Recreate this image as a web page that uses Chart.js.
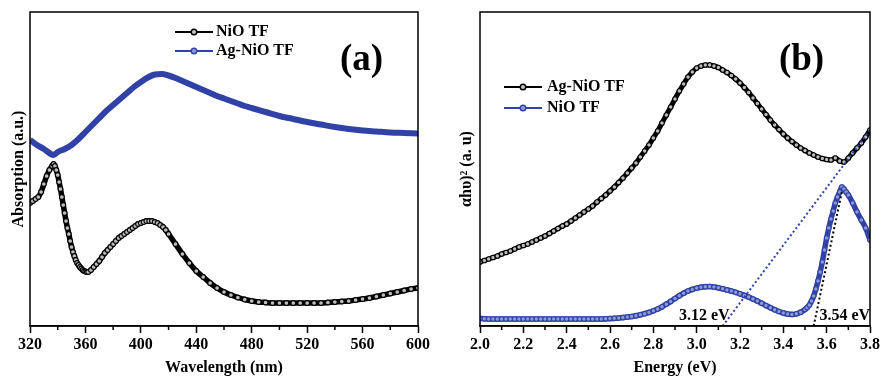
<!DOCTYPE html>
<html><head><meta charset="utf-8">
<script src="https://cdn.jsdelivr.net/npm/chart.js@4.4.1/dist/chart.umd.min.js"></script>
<style>
html,body{margin:0;padding:0;background:#fff;overflow:hidden}
#wrap{position:relative;width:882px;height:377px;background:#fff}
canvas{position:absolute;top:0}
#c1{left:0}#c2{left:441px}
</style></head><body>
<div id="wrap"><canvas id="c1" width="441" height="377"></canvas><canvas id="c2" width="441" height="377"></canvas></div>
<script>
// ---------- Panel (a): absorption vs wavelength (arbitrary units) ----------
const wlNiO = [320,322,324,326,328,330,332,334,336,337,338,339,340,341,342,343,344,345,346,347,348,349,350,351,352,353,354,355,356,357,358,359,360,361,362,364,366,368,370,372,374,376,378,380,382,384,386,388,390,392,394,396,398,400,402,404,406,408,410,412,414,416,418,420,425,430,435,440,445,450,455,460,465,470,475,480,485,490,495,500,505,510,515,520,525,530,535,540,545,550,555,560,565,570,575,580,585,590,595,600];
const absNiO = [123,125,127,129,134,142,150,156,160,162,160,156,151,144,137,129,121,113,105,98,92,85,79,74,70,66,63,61,59,57.5,56,55,54.5,54,54,56,59,62,65,69,73,76,79,82,85,88,90,92,94,96,98,100,102,103,104,105,105,105,104,103,101,99,96,92,82,72,63,55,49,43,38,34,31,28.5,26.5,25,24,23.5,23,23,23,23,23,23,23,23,23.5,24,24.5,25,26,27,28,29.5,31,32.5,34,35.5,37,38];
const wlAgNiO = [320,325,330,335,337,340,345,350,355,360,365,370,375,380,385,390,395,400,405,410,415,420,425,430,435,440,445,450,455,460,465,470,475,480,490,500,510,520,530,540,550,560,570,580,590,600];
const absAgNiO = [186,181,177,172,171,174,177,181,187,194,201,208,215,221,227,233,239,244,248.5,251.5,252,250.5,248,245,242,239,236,233,230,227.5,225,222.5,220,218,214,210,207,204,201.5,199,197,195.5,194.5,193.5,193,192.5];
const xTicksA = [320,360,400,440,480,520,560,600];
const xMinorA = [340,380,420,460,500,540,580];

// ---------- Panel (b): (alpha h nu)^2 vs energy (arbitrary units) ----------
const eAgNiO = [2.00,2.02,2.04,2.06,2.08,2.10,2.12,2.14,2.16,2.18,2.20,2.22,2.24,2.26,2.28,2.30,2.32,2.34,2.36,2.38,2.40,2.42,2.44,2.46,2.48,2.50,2.52,2.54,2.56,2.58,2.60,2.62,2.64,2.66,2.68,2.70,2.72,2.74,2.76,2.78,2.80,2.82,2.84,2.86,2.88,2.90,2.92,2.94,2.96,2.98,3.00,3.02,3.04,3.06,3.08,3.10,3.12,3.14,3.16,3.18,3.20,3.22,3.24,3.26,3.28,3.30,3.32,3.34,3.36,3.38,3.40,3.42,3.44,3.46,3.48,3.50,3.52,3.54,3.56,3.58,3.60,3.62,3.64,3.66,3.68,3.70,3.72,3.74,3.76,3.78,3.80];
const tAgNiO = [64,65.5,67,68.5,70,72,73.5,75,77,79,80.5,82,84,86,88,90,92.5,95,97.5,100,102,105,108,111,114,117,120,124,127.5,131,135,139,143.5,148,153,158,163,169,175,181,188,195,203,211,219,227,235,242,249,254,258,260,261,261,260,258.5,256,253.5,250.5,247,243,238.5,233.5,228,222.5,217,211.5,206,201,196.5,192,188,184.5,181,178,175.5,173,171,169,167.5,166.5,166,168,165,164,168,173,178,183,189,196];
const eNiO = [2.00,2.02,2.04,2.06,2.08,2.10,2.12,2.14,2.16,2.18,2.20,2.22,2.24,2.26,2.28,2.30,2.32,2.34,2.36,2.38,2.40,2.42,2.44,2.46,2.48,2.50,2.52,2.54,2.56,2.58,2.60,2.62,2.64,2.66,2.68,2.70,2.72,2.74,2.76,2.78,2.80,2.82,2.84,2.86,2.88,2.90,2.92,2.94,2.96,2.98,3.00,3.02,3.04,3.06,3.08,3.10,3.12,3.14,3.16,3.18,3.20,3.22,3.24,3.26,3.28,3.30,3.32,3.34,3.36,3.38,3.40,3.42,3.44,3.46,3.48,3.50,3.51,3.52,3.53,3.54,3.55,3.56,3.57,3.58,3.59,3.60,3.61,3.62,3.63,3.64,3.65,3.66,3.67,3.68,3.69,3.70,3.72,3.74,3.76,3.78,3.80];
const tNiO = [7.5,7.2,7,7,7,7,7,7,7,7,7,7,7,7,7,7,7,7,7,7,7,7,7,7,7,7,7,7,7,7.2,7.4,7.7,8,8.4,8.9,9.5,10.3,11.2,12.3,13.6,15.2,17,19.2,21.8,24.6,27.5,30.3,32.8,34.9,36.6,37.9,38.8,39.3,39.4,39,38.2,37.2,36.1,35,33.7,32.2,30.6,28.9,27,25,22.8,20.5,18.3,16.3,14.5,13,12,11.6,12.2,13.8,16.5,18.5,21,25,30,37,45,54,64,76,88,98,107,115,123,129,134,139,137,134,131,123,114,106,98,86];
const fitAgE = [3.12, 3.80], fitAgY = [0, 196];   // tangent -> 3.12 eV
const fitNiOE = [3.54, 3.67], fitNiOY = [0, 134]; // tangent -> 3.54 eV
const xTicksB = [2.0,2.2,2.4,2.6,2.8,3.0,3.2,3.4,3.6,3.8];
const xMinorB = [2.1,2.3,2.5,2.7,2.9,3.1,3.3,3.5,3.7];

const BLUE = '#3142a6', BLUE_FILL = '#8e9ad4', BLACK = '#000', GREY_FILL = '#bdbdbd';
const FONT = 'Liberation Serif';
const pts = (xs, ys) => xs.map((x, i) => ({x, y: ys[i]}));

function markerImg(color, fill) {
  const c = document.createElement('canvas'); c.width = 38; c.height = 10;
  const g = c.getContext('2d');
  g.strokeStyle = color; g.lineWidth = 2.2;
  g.beginPath(); g.moveTo(0, 5); g.lineTo(38, 5); g.stroke();
  g.fillStyle = fill; g.lineWidth = 1.4;
  g.beginPath(); g.arc(19, 5, 2.8, 0, Math.PI * 2); g.fill(); g.stroke();
  return c;
}

function deco(opts) {
  return {
    id: 'deco',
    afterDraw(chart) {
      const {ctx, chartArea: a} = chart; const x = chart.scales.x;
      ctx.save();
      ctx.strokeStyle = '#000'; ctx.lineWidth = 1.5;
      opts.minor.forEach(v => {
        const px = x.getPixelForValue(v);
        ctx.beginPath(); ctx.moveTo(px, a.bottom); ctx.lineTo(px, a.bottom + 4); ctx.stroke();
      });
      ctx.strokeRect(a.left, a.top, a.right - a.left, a.bottom - a.top);
      ctx.textBaseline = 'middle'; ctx.textAlign = 'left';
      ctx.font = 'bold 16px "' + FONT + '"';
      ctx.fillStyle = '#000';
      opts.legend.forEach((it, i) => {
        const y = opts.legY + i * opts.legGap;
        ctx.drawImage(markerImg(it.color, it.fill), opts.legX, y - 5);
        ctx.fillText(it.text, opts.legX + opts.legText, y);
      });
      ctx.textBaseline = 'alphabetic'; ctx.textAlign = 'center';
      ctx.font = 'bold 37px "' + FONT + '"';
      ctx.fillText(opts.letter, opts.letterX, 70);
      ctx.textAlign = 'left'; ctx.font = 'bold 16px "' + FONT + '"';
      (opts.notes || []).forEach(n => ctx.fillText(n.text, n.x, n.y));
      ctx.restore();
    }
  };
}

function xScale(min, max, ticksArr, fmt, title) {
  return {
    type: 'linear', min, max,
    afterBuildTicks: s => { s.ticks = ticksArr.map(v => ({value: v})); },
    afterFit: s => { s.height = 51; },
    ticks: {autoSkip: false, maxRotation: 0, color: '#000', padding: 2,
      font: {family: FONT, size: 16, weight: 'bold'}, callback: fmt},
    grid: {display: true, drawOnChartArea: false, drawTicks: true, tickLength: 7, tickWidth: 1.5, tickColor: '#000', color: '#000'},
    border: {display: true, color: '#000', width: 1.5},
    title: {display: true, text: title, color: '#000', padding: {top: 0, bottom: 0},
      font: {family: FONT, size: 16, weight: 'bold'}}
  };
}
function yScale(width, title, padTop) {
  return {
    type: 'linear', min: 0, max: 314,
    afterFit: s => { s.width = width; },
    ticks: {display: false}, grid: {display: false}, border: {display: false},
    title: {display: true, text: title, color: '#000', padding: {top: padTop, bottom: 0},
      font: {family: FONT, size: 16, weight: 'bold'}}
  };
}
const beads = (color, fill, bw, r) => ({
  borderColor: color, backgroundColor: fill, borderWidth: bw,
  pointRadius: r, pointBackgroundColor: fill, pointBorderColor: color, pointBorderWidth: 1.1,
  pointHoverRadius: r, cubicInterpolationMode: 'monotone', fill: false
});
const common = {
  responsive: false, animation: false, devicePixelRatio: 1, events: [],
  plugins: {legend: {display: false}, tooltip: {enabled: false}}
};

new Chart(document.getElementById('c1'), {
  type: 'scatter',
  data: {datasets: [
    Object.assign({label: 'NiO TF', data: pts(wlNiO, absNiO), showLine: true, order: 1}, beads(BLACK, GREY_FILL, 5.5, 2.4)),
    Object.assign({label: 'Ag-NiO TF', data: pts(wlAgNiO, absAgNiO), showLine: true, order: 2}, beads(BLUE, BLUE, 6, 0))
  ]},
  options: Object.assign({}, common, {
    layout: {padding: {left: 0, top: 12, right: 23, bottom: 0}},
    scales: {
      x: xScale(320, 600, xTicksA, v => String(v), 'Wavelength (nm)'),
      y: yScale(30, 'Absorption (a.u.)', 9)
    }
  }),
  plugins: [deco({
    minor: xMinorA, letter: '(a)', letterX: 361.5,
    legX: 175, legY: 32, legGap: 19, legText: 41,
    legend: [{text: 'NiO TF', color: BLACK, fill: GREY_FILL}, {text: 'Ag-NiO TF', color: BLUE, fill: BLUE_FILL}]
  })]
});

new Chart(document.getElementById('c2'), {
  type: 'scatter',
  data: {datasets: [
    {label: 'fit 3.12 eV', data: pts(fitAgE, fitAgY), showLine: true, borderColor: BLUE, borderWidth: 2, borderDash: [2, 2.5], pointRadius: 0, order: 0},
    {label: 'fit 3.54 eV', data: pts(fitNiOE, fitNiOY), showLine: true, borderColor: BLACK, borderWidth: 2, borderDash: [2, 2.5], pointRadius: 0, order: 0},
    Object.assign({label: 'Ag-NiO TF', data: pts(eAgNiO, tAgNiO), showLine: true, order: 1}, beads(BLACK, GREY_FILL, 5, 2.3)),
    Object.assign({label: 'NiO TF', data: pts(eNiO, tNiO), showLine: true, order: 2}, beads(BLUE, BLUE_FILL, 5.5, 2.3))
  ]},
  options: Object.assign({}, common, {
    layout: {padding: {left: 0, top: 12, right: 12, bottom: 0}},
    scales: {
      x: xScale(2.0, 3.8, xTicksB, v => Number(v).toFixed(1), 'Energy (eV)'),
      y: yScale(39, 'αhυ)² (a. u)', 16.4)
    }
  }),
  plugins: [deco({
    minor: xMinorB, letter: '(b)', letterX: 360.5,
    legX: 63, legY: 87, legGap: 21, legText: 43,
    legend: [{text: 'Ag-NiO TF', color: BLACK, fill: GREY_FILL}, {text: 'NiO TF', color: BLUE, fill: BLUE_FILL}],
    notes: [{text: '3.12 eV', x: 238, y: 320}, {text: '3.54 eV', x: 378.5, y: 320}]
  })]
});
</script>
</body></html>
